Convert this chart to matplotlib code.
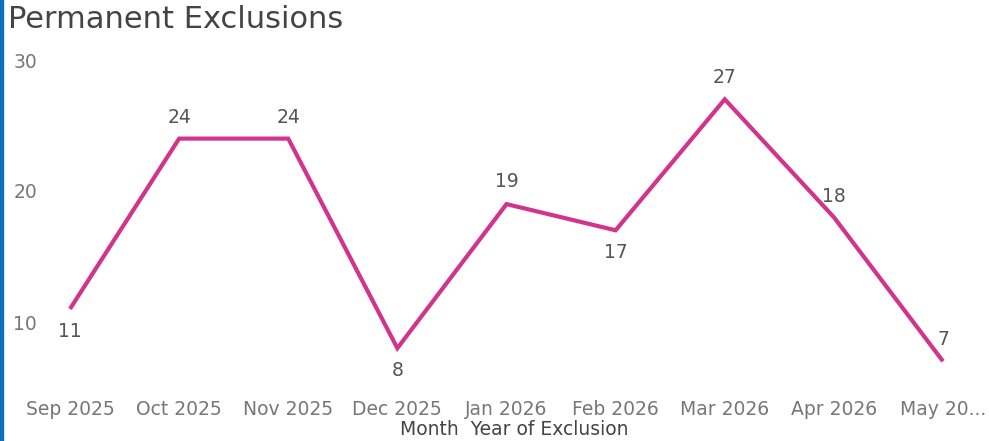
import matplotlib
matplotlib.use("Agg")
import matplotlib.pyplot as plt
from matplotlib.patches import Rectangle

months = ["Sep 2025", "Oct 2025", "Nov 2025", "Dec 2025", "Jan 2026",
          "Feb 2026", "Mar 2026", "Apr 2026", "May 20..."]
exclusions = [11, 24, 24, 8, 19, 17, 27, 18, 7]

# label placement (points offset from the marker), like the report does it
label_offsets = [(0, -16), (0, 15), (0, 15), (0, -16), (0, 16),
                 (0, -16), (0, 16), (0, 15), (0, 16)]

line_color = "#D1338D"
text_color = "#555555"

plt.rcParams["font.family"] = ["DejaVu Sans"]

W, H = 989, 441
fig = plt.figure(figsize=(W / 100, H / 100), dpi=100)

# axes box in pixel terms
left_px, right_px, top_px, bottom_px = 40, 989, 50, 390
ax = fig.add_axes([left_px / W, 1 - bottom_px / H,
                   (right_px - left_px) / W, (bottom_px - top_px) / H])

x = list(range(len(months)))
ax.plot(x, exclusions, color=line_color, linewidth=3, solid_capstyle="butt",
        solid_joinstyle="miter")

for i, v in enumerate(exclusions):
    ax.annotate(str(v), (i, v), xytext=label_offsets[i], textcoords="offset points",
                ha="center", va="center", fontsize=13.5, color=text_color)

# pixel mapping: Sep at 70px, May at 943px; 30 at 60px, 10 at 322px
px_per_cat = (943 - 70) / 8
ax.set_xlim((left_px - 70) / px_per_cat, (right_px - 70) / px_per_cat)
px_per_unit = (322 - 60) / 20
ax.set_ylim(10 - (bottom_px - 322) / px_per_unit, 30 + (60 - top_px) / px_per_unit)

ax.set_xticks(x)
ax.set_xticklabels(months)
ax.set_yticks([10, 20, 30])
ax.tick_params(axis="both", length=0, labelsize=13.5, labelcolor="#777777")
ax.tick_params(axis="x", pad=7)
ax.tick_params(axis="y", pad=2)
ax.set_xlabel("Month  Year of Exclusion", fontsize=13.5, color="#444444", labelpad=1)
for s in ax.spines.values():
    s.set_visible(False)

fig.text(8 / W, 1 - 19 / H, "Permanent Exclusions", fontsize=22, color="#444444",
         ha="left", va="center")

# blue frame edge on the left
fig.patches.append(Rectangle((0, 0), 3 / W, 1, transform=fig.transFigure,
                             color="#0B6FC0", zorder=10))

fig.savefig("out.png", dpi=100)
